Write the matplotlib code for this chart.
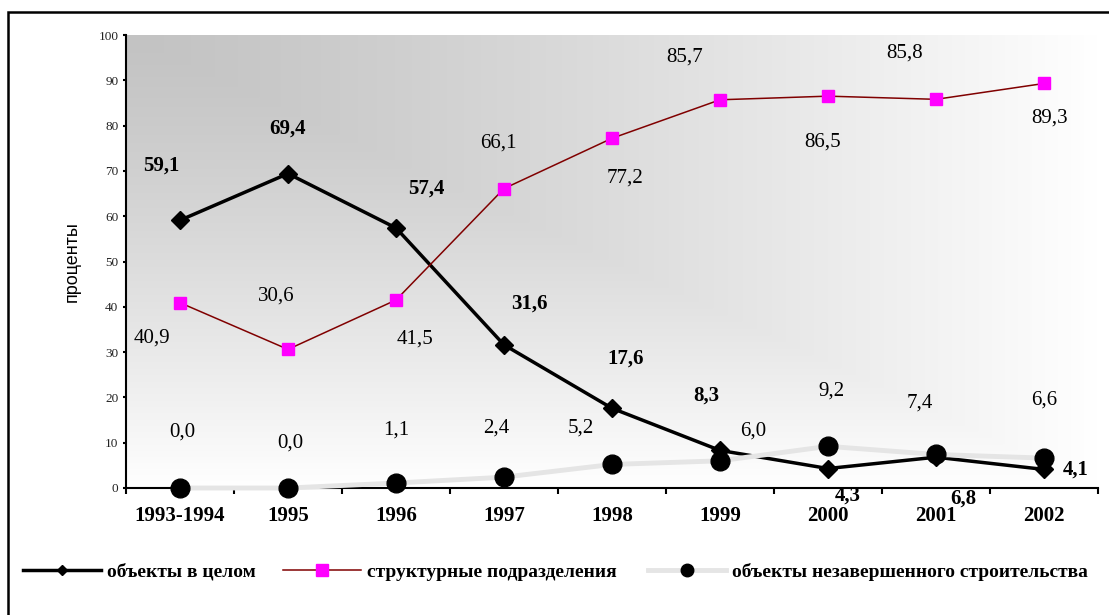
import numpy as np
import matplotlib
matplotlib.use("Agg")
import matplotlib.pyplot as plt
from matplotlib.lines import Line2D
from matplotlib.patches import Rectangle

plt.rcParams['font.family'] = ['Liberation Serif', 'DejaVu Serif']

# ---------- data ----------
years = ["1993-1994", "1995", "1996", "1997", "1998", "1999", "2000", "2001", "2002"]
objects_total = [59.1, 69.4, 57.4, 31.6, 17.6, 8.3, 4.3, 6.8, 4.1]
struct_units = [40.9, 30.6, 41.5, 66.1, 77.2, 85.7, 86.5, 85.8, 89.3]
unfinished = [0.0, 0.0, 1.1, 2.4, 5.2, 6.0, 9.2, 7.4, 6.6]

series_names = ["объекты в целом", "структурные подразделения",
                "объекты незавершенного строительства"]

# label offsets in pixels (dx right, dy down) from each point
off_total = [(-19, -55), (0, -45), (30, -39), (25, -41), (14, -50),
             (-14, -55), (20, 27), (27, 41), (32, 0)]
off_struct = [(-28, 35), (-12, -53), (19, 39), (-6, -46), (13, 40),
              (-35, -43), (-5, 46), (-31, -46), (6, 35)]
off_unfin = [(2, -56), (2, -45), (0, -53), (-8, -49), (-31, -36),
             (33, -30), (3, -55), (-16, -51), (0, -58)]

W, H = 1109, 615
fig = plt.figure(figsize=(W / 100, H / 100), dpi=100)
ax = fig.add_axes([126 / W, 1 - 488 / H, (1098 - 126) / W, (488 - 35) / H])

x = np.arange(len(years))

# gradient background (dark in top-left corner, fading to white)
gx, gy = np.meshgrid(np.linspace(0, 1, 400), np.linspace(0, 1, 300))
t = np.maximum(gx, gy) ** 1.25
shade = (195 + 60 * t) / 255
ax.imshow(np.dstack([shade, shade, shade]), extent=[-0.5, 8.5, 0, 100],
          origin='upper', aspect='auto', zorder=0, interpolation='bilinear')

ax.plot(x, objects_total, color='black', lw=2.5, marker='D', ms=9.5,
        mfc='black', mec='black', zorder=3, clip_on=False)
ax.plot(x, struct_units, color='#800000', lw=1.1, marker='s', ms=9,
        mfc='#ff00ff', mec='#ff00ff', zorder=4, clip_on=False)
ax.plot(x, unfinished, color='#e5e5e5', lw=3.5, marker='o', ms=13.5,
        mfc='black', mec='black', zorder=8, clip_on=False)

def fmt(v):
    return f"{v:.1f}".replace('.', ',')

for xi, v, (dx, dy) in zip(x, objects_total, off_total):
    ax.annotate(fmt(v), (xi, v), xytext=(dx * 0.72, -dy * 0.72),
                textcoords='offset points', ha='center', va='center',
                fontsize=15, fontweight='bold', zorder=9)
for xi, v, (dx, dy) in zip(x, struct_units, off_struct):
    ax.annotate(fmt(v), (xi, v), xytext=(dx * 0.72, -dy * 0.72),
                textcoords='offset points', ha='center', va='center',
                fontsize=15, zorder=9)
for xi, v, (dx, dy) in zip(x, unfinished, off_unfin):
    ax.annotate(fmt(v), (xi, v), xytext=(dx * 0.72, -dy * 0.72),
                textcoords='offset points', ha='center', va='center',
                fontsize=15, zorder=9)

ax.set_xlim(-0.5, 8.5)
ax.set_ylim(0, 100)
ax.set_yticks(range(0, 101, 10))
ax.set_xticks(x)
ax.set_xticklabels(years, fontsize=15, fontweight='bold')
ax.set_xticks(np.arange(-0.5, 9, 1), minor=True)
ax.tick_params(axis='x', which='major', length=0, pad=13)
ax.tick_params(axis='x', which='minor', length=4, width=1.5, direction='out')
ax.tick_params(axis='y', length=2.5, width=1.5, direction='out', pad=3,
               labelsize=9.5, labelcolor='#222222')

for s in ['top', 'right']:
    ax.spines[s].set_visible(False)
for s in ['left', 'bottom']:
    ax.spines[s].set_linewidth(1.5)
    ax.spines[s].set_zorder(7)

ax.set_ylabel("проценты", family=['Liberation Sans', 'DejaVu Sans'], fontsize=13)
ax.yaxis.set_label_coords(-0.047, 0.5)

# legend, one entry per column anchored like the original
handles = [
    Line2D([], [], color='black', lw=2.5, marker='D', ms=5, mfc='black', mec='black'),
    Line2D([], [], color='#800000', lw=1.1, marker='s', ms=9, mfc='#ff00ff', mec='#ff00ff'),
    Line2D([], [], color='#e5e5e5', lw=3.5, marker='o', ms=9, mfc='black', mec='black'),
]
starts = [23, 283, 648]
for h, name, sx in zip(handles, series_names, starts):
    fig.legend([h], [name], loc='center left', bbox_to_anchor=(sx / W, 1 - 572 / H),
               frameon=False, borderpad=0, borderaxespad=0, handlelength=4.0,
               handletextpad=0.3, prop={'weight': 'bold', 'size': 14})

# outer frame (runs off the right and bottom edge)
fig.patches.append(Rectangle((8 / W, -0.1), 1.2, 1 - 12 / H + 0.1,
                             transform=fig.transFigure, fill=False,
                             lw=1.8, edgecolor='black'))

fig.savefig("out.png", dpi=100)
